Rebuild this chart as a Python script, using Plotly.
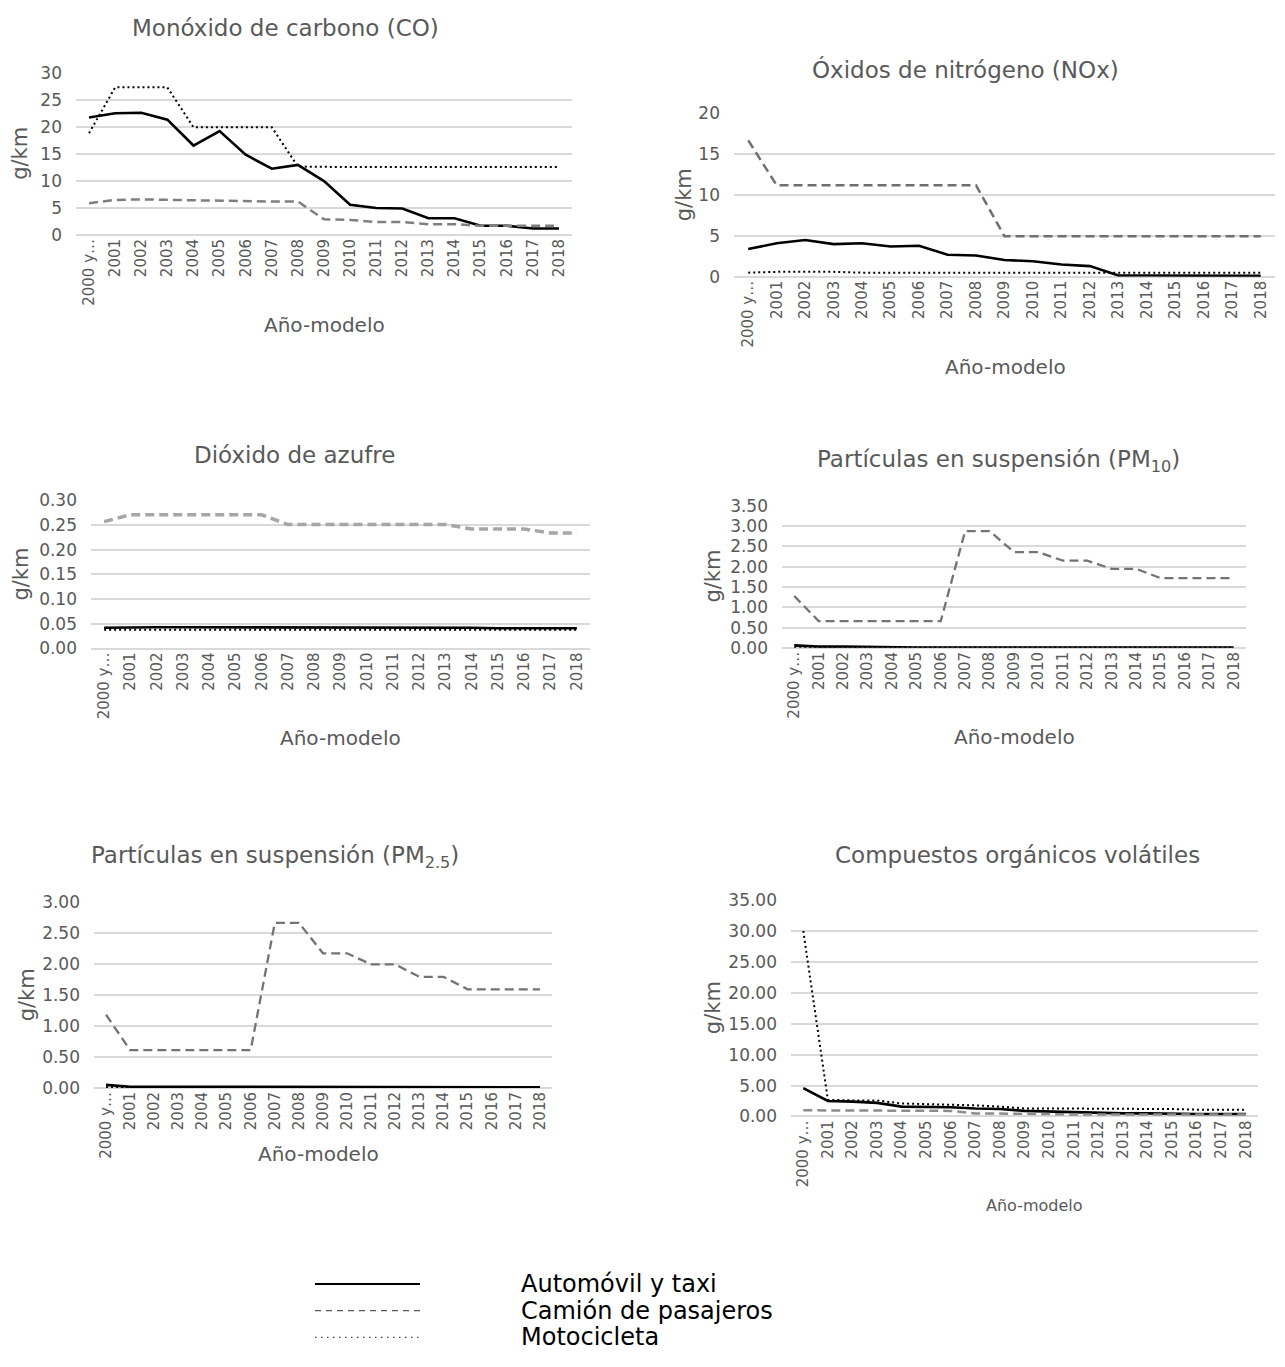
import plotly.graph_objects as go

W, H = 1285, 1367
FONT = "DejaVu Sans"
GRAY_TXT = "#595959"
GRID = "#d9d9d9"

# Category labels (model year)
anios = ["2000 y…", "2001", "2002", "2003", "2004", "2005", "2006", "2007", "2008",
         "2009", "2010", "2011", "2012", "2013", "2014", "2015", "2016", "2017", "2018"]

# Monóxido de carbono (CO), g/km
co_auto = [21.8, 22.6, 22.7, 21.4, 16.6, 19.3, 14.9, 12.3, 13.0, 10.0, 5.6, 5.0, 4.9, 3.1, 3.1, 1.7, 1.7, 1.2, 1.2]
co_camion = [5.9, 6.5, 6.6, 6.5, 6.4, 6.4, 6.3, 6.2, 6.2, 2.9, 2.8, 2.4, 2.4, 2.0, 2.0, 1.7, 1.7, 1.7, 1.7]
co_moto = [18.9, 27.4, 27.4, 27.4, 20.0, 20.0, 20.0, 20.0, 12.7, 12.6, 12.6, 12.6, 12.6, 12.6, 12.6, 12.6, 12.6, 12.6, 12.6]

# Óxidos de nitrógeno (NOx), g/km
nox_auto = [3.4, 4.1, 4.5, 4.0, 4.1, 3.7, 3.8, 2.7, 2.6, 2.05, 1.9, 1.5, 1.3, 0.16, 0.15, 0.15, 0.15, 0.1, 0.1]
nox_camion = [16.7, 11.2, 11.2, 11.2, 11.2, 11.2, 11.2, 11.2, 11.2, 4.95, 4.95, 4.95, 4.95, 4.95, 4.95, 4.95, 4.95, 4.95, 4.95]
nox_moto = [0.5, 0.6, 0.6, 0.6, 0.5, 0.5, 0.5, 0.5, 0.5, 0.5, 0.5, 0.5, 0.5, 0.5, 0.5, 0.5, 0.5, 0.5, 0.5]

# Dióxido de azufre, g/km
so2_auto = [0.042, 0.043, 0.043, 0.043, 0.043, 0.043, 0.043, 0.043, 0.042, 0.042, 0.042, 0.043, 0.042, 0.042, 0.042, 0.041, 0.041, 0.041, 0.041]
so2_camion = [0.257, 0.271, 0.271, 0.271, 0.271, 0.271, 0.271, 0.251, 0.251, 0.251, 0.251, 0.251, 0.251, 0.251, 0.242, 0.242, 0.242, 0.234, 0.234]
so2_moto = [0.038, 0.038, 0.038, 0.038, 0.038, 0.038, 0.038, 0.038, 0.038, 0.038, 0.038, 0.038, 0.038, 0.038, 0.038, 0.038, 0.038, 0.038, 0.038]

# Partículas en suspensión (PM10), g/km
pm10_auto = [0.06, 0.03, 0.03, 0.02, 0.01, 0.01, 0.01, 0.01, 0.01, 0.01, 0.01, 0.01, 0.01, 0.01, 0.01, 0.01, 0.01, 0.01, 0.01]
pm10_camion = [1.28, 0.66, 0.66, 0.66, 0.66, 0.66, 0.66, 2.88, 2.88, 2.36, 2.36, 2.15, 2.15, 1.95, 1.95, 1.72, 1.72, 1.72, 1.72]
pm10_moto = [0.01, 0.01, 0.01, 0.01, 0.01, 0.01, 0.01, 0.01, 0.01, 0.01, 0.01, 0.01, 0.01, 0.01, 0.01, 0.01, 0.01, 0.01, 0.01]

# Partículas en suspensión (PM2.5), g/km
pm25_auto = [0.05, 0.02, 0.02, 0.02, 0.01, 0.01, 0.01, 0.01, 0.01, 0.01, 0.01, 0.01, 0.01, 0.01, 0.01, 0.01, 0.01, 0.01, 0.01]
pm25_camion = [1.18, 0.61, 0.61, 0.61, 0.61, 0.61, 0.61, 2.66, 2.66, 2.17, 2.17, 1.99, 1.99, 1.79, 1.79, 1.59, 1.59, 1.59, 1.59]
pm25_moto = [0.01, 0.01, 0.01, 0.01, 0.01, 0.01, 0.01, 0.01, 0.01, 0.01, 0.01, 0.01, 0.01, 0.01, 0.01, 0.01, 0.01, 0.01, 0.01]

# Compuestos orgánicos volátiles, g/km
voc_auto = [4.6, 2.5, 2.4, 2.2, 1.6, 1.6, 1.5, 1.3, 1.2, 0.9, 0.8, 0.6, 0.6, 0.5, 0.5, 0.4, 0.4, 0.4, 0.4]
voc_camion = [1.0, 1.0, 1.0, 1.0, 1.0, 1.0, 0.9, 0.5, 0.5, 0.4, 0.4, 0.3, 0.3, 0.3, 0.3, 0.3, 0.3, 0.3, 0.3]
voc_moto = [30.0, 2.7, 2.6, 2.6, 2.1, 2.0, 2.0, 1.8, 1.6, 1.3, 1.3, 1.3, 1.3, 1.2, 1.2, 1.2, 1.1, 1.1, 1.1]

series_names = ["Automóvil y taxi", "Camión de pasajeros", "Motocicleta"]

# Panel layout in pixels: plot box (left, right, top, bottom), y range, tick step/format,
# title position, y-title position, x-title position
panels = [
    dict(title="Monóxido de carbono (CO)", data=(co_auto, co_camion, co_moto),
         box=(76, 572, 64.3, 228.3), yr=(0, 30), dt=5, fmt="d",
         tpos=(285, 18), ypos=(20, 146), xpos=(324, 320), xsize=20,
         cam_color="#7f7f7f", cam_w=2.5),
    dict(title="Óxidos de nitrógeno (NOx)", data=(nox_auto, nox_camion, nox_moto),
         box=(734, 1275, 105, 270.7), yr=(0, 20), dt=5, fmt="d",
         tpos=(965, 60), ypos=(684, 188), xpos=(1005, 362), xsize=20,
         cam_color="#6f6f6f", cam_w=2.5),
    dict(title="Dióxido de azufre", data=(so2_auto, so2_camion, so2_moto),
         box=(91, 590, 497.7, 648), yr=(0, 0.30), dt=0.05, fmt=".2f",
         tpos=(294, 452), ypos=(21, 573), xpos=(340, 739), xsize=20,
         cam_color="#a6a6a6", cam_w=3.5),
    dict(title="Partículas en suspensión (PM<sub>10</sub>)", data=(pm10_auto, pm10_camion, pm10_moto),
         box=(782, 1246, 503.3, 647.3), yr=(0, 3.5), dt=0.5, fmt=".2f",
         tpos=(998, 458), ypos=(713, 575), xpos=(1014, 738), xsize=20,
         cam_color="#737373", cam_w=2.3),
    dict(title="Partículas en suspensión (PM<sub>2.5</sub>)", data=(pm25_auto, pm25_camion, pm25_moto),
         box=(94, 552, 905, 1094), yr=(0, 3.0), dt=0.5, fmt=".2f",
         tpos=(275, 860), ypos=(27, 1000), xpos=(318, 1161), xsize=20,
         cam_color="#737373", cam_w=2.3),
    dict(title="Compuestos orgánicos volátiles", data=(voc_auto, voc_camion, voc_moto),
         box=(791, 1258, 903.3, 1122.9), yr=(0, 35), dt=5, fmt=".2f",
         tpos=(1017, 858), ypos=(713, 1013), xpos=(1034, 1213), xsize=16,
         cam_color="#8c8c8c", cam_w=2.5),
]

fig = go.Figure()
annotations = []
xidx = list(range(len(anios)))

for i, p in enumerate(panels, start=1):
    xa = "x" if i == 1 else f"x{i}"
    ya = "y" if i == 1 else f"y{i}"
    left, right, top, bottom = p["box"]
    auto, cam, moto = p["data"]
    styles = [
        dict(color="#000000", width=2.6, dash="solid"),
        dict(color=p["cam_color"], width=p["cam_w"], dash="9px,5px"),
        dict(color="#000000", width=2.0, dash="2px,3px"),
    ]
    for name, vals, st in zip(series_names, (auto, cam, moto), styles):
        fig.add_trace(go.Scatter(x=xidx, y=vals, mode="lines", name=name,
                                 line=st, showlegend=False, xaxis=xa, yaxis=ya,
                                 hoverinfo="x+y+name"))
    xkey = "xaxis" if i == 1 else f"xaxis{i}"
    ykey = "yaxis" if i == 1 else f"yaxis{i}"
    fig.layout[xkey] = dict(
        domain=[left / W, right / W], anchor=ya, range=[-0.5, len(anios) - 0.5],
        tickmode="array", tickvals=xidx, ticktext=anios, tickangle=-90,
        showgrid=False, zeroline=False, showline=False, ticks="",
        tickfont=dict(family=FONT, size=15, color=GRAY_TXT), fixedrange=True,
    )
    fig.layout[ykey] = dict(
        domain=[1 - bottom / H, 1 - top / H], anchor=xa, range=list(p["yr"]),
        dtick=p["dt"], tick0=0, tickformat=p["fmt"], showgrid=True, gridcolor=GRID,
        gridwidth=1.5, zeroline=True, zerolinecolor=GRID, zerolinewidth=1.5,
        showline=False, ticks="", ticklabelstandoff=13,
        tickfont=dict(family=FONT, size=17, color=GRAY_TXT), fixedrange=True,
    )
    tx, ty = p["tpos"]
    annotations.append(dict(text=p["title"], x=tx / W, y=1 - ty / H, xref="paper", yref="paper",
                            showarrow=False, xanchor="center", yanchor="middle",
                            font=dict(family=FONT, size=23, color=GRAY_TXT)))
    gx, gy = p["ypos"]
    annotations.append(dict(text="g/km", x=gx / W, y=1 - gy / H, xref="paper", yref="paper",
                            showarrow=False, xanchor="center", yanchor="middle", textangle=-90,
                            font=dict(family=FONT, size=21, color=GRAY_TXT)))
    ax, ay = p["xpos"]
    annotations.append(dict(text="Año-modelo", x=ax / W, y=1 - ay / H, xref="paper", yref="paper",
                            showarrow=False, xanchor="center", yanchor="middle",
                            font=dict(family=FONT, size=p["xsize"], color=GRAY_TXT)))

# Shared legend below the panels
legend_rows = [
    (series_names[0], 1293, dict(color="#000000", width=2, dash="solid")),
    (series_names[1], 1320, dict(color="#595959", width=1.3, dash="6px,5px")),
    (series_names[2], 1347, dict(color="#404040", width=1.3, dash="1.5px,4.5px")),
]
shapes = []
for name, yy, st in legend_rows:
    shapes.append(dict(type="line", xref="paper", yref="paper",
                       x0=315 / W, x1=420 / W, y0=1 - yy / H, y1=1 - yy / H, line=st))
    annotations.append(dict(text=name, x=520 / W, y=1 - yy / H, xref="paper", yref="paper",
                            showarrow=False, xanchor="left", yanchor="middle",
                            height=26, borderpad=0,
                            font=dict(family=FONT, size=24, color="#000000")))

fig.update_layout(
    width=W, height=H, margin=dict(l=0, r=0, t=0, b=0),
    paper_bgcolor="white", plot_bgcolor="white",
    annotations=annotations, shapes=shapes, showlegend=False,
    font=dict(family=FONT, color=GRAY_TXT),
)

fig.write_html("out.html", config={"displayModeBar": False})
